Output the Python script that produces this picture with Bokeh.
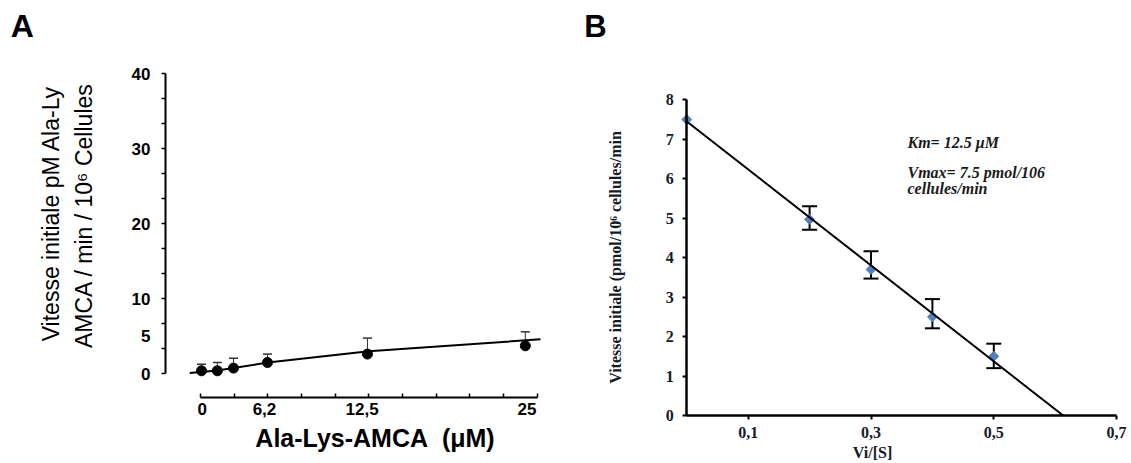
import math
from bokeh.plotting import figure
from bokeh.layouts import row
from bokeh.models import FixedTicker, Label, Whisker, TeeHead, ColumnDataSource
from bokeh.embed import file_html
from bokeh.resources import INLINE

# ---------------- Panel A data ----------------
# x positions along panel A's (non-proportional) concentration axis, in axis-tick units
A_x = [0.03, 0.5, 0.98, 1.99, 4.96, 9.65]
A_y = [0.4, 0.4, 0.76, 1.5, 2.63, 3.73]
A_err_top = [1.29, 1.51, 2.09, 2.63, 4.76, 5.6]
A_curve_x = [-0.32, 0.5, 2.0, 5.0, 10.1]
A_curve_y = [0.1, 0.45, 1.5, 3.0, 4.6]
A_x_tick_pos = [0.05, 1.9, 4.8, 9.7]
A_x_tick_labels = ["0", "6,2", "12,5", "25"]
A_x_minor = [0, 1, 2, 3, 4, 5, 6, 7, 8, 9, 10]
A_y_ticks = [0, 5, 10, 20, 30, 40]
A_y_minor = [0, 10/3, 20/3, 10, 40/3, 50/3, 20, 70/3, 80/3, 30, 100/3, 110/3, 40]

# ---------------- Panel B data ----------------
B_x = [0.0, 0.2, 0.3, 0.4, 0.5]
B_y = [7.5, 4.97, 3.7, 2.5, 1.5]
B_err_x = [0.2, 0.3, 0.4, 0.5]
B_err_low = [4.71, 3.47, 2.21, 1.2]
B_err_high = [5.3, 4.16, 2.95, 1.82]
B_fit_x = [0.0, 0.613]
B_fit_y = [7.45, 0.0]
B_x_ticks = [0.1, 0.3, 0.5, 0.7]
B_x_tick_labels = ["0,1", "0,3", "0,5", "0,7"]
B_y_ticks = [0, 1, 2, 3, 4, 5, 6, 7, 8]

SANS = "Liberation Sans"
SERIF = "Liberation Serif"
H = 463
WA = 575
WB = 1131 - WA

# ---- panel A screen layout (page pixels) ----
A_X0, A_SX = 200.0, 33.66      # page x of x=0, px per unit
A_Y0, A_SY = 373.3, 7.5        # page y of y=0, px per unit
def ax(px): return (px - A_X0) / A_SX
def ay(py): return (A_Y0 - py) / A_SY

# ---- panel B screen layout ----
B_X0, B_SX = 686.3, 614.0
B_Y0, B_SY = 415.0, 39.46
def bx(px): return (px - B_X0) / B_SX
def by(py): return (B_Y0 - py) / B_SY

# ================= Panel A =================
pA = figure(width=WA, height=H, x_range=(ax(0), ax(WA)), y_range=(ay(H), ay(0)),
            output_backend="svg", toolbar_location=None, title=None,
            min_border_left=0, min_border_right=0, min_border_top=0, min_border_bottom=0)
pA.outline_line_color = None
pA.grid.visible = False

ya = pA.yaxis[0]
ya.fixed_location = ax(165)
ya.bounds = (0, 40)
ya.ticker = FixedTicker(ticks=A_y_ticks, minor_ticks=A_y_minor)
ya.major_tick_in = 0
ya.major_tick_out = 0
ya.minor_tick_in = 0
ya.minor_tick_out = 4
ya.minor_tick_line_width = 1.5
ya.axis_line_width = 2
ya.major_label_standoff = 11
ya.major_label_text_font = SANS
ya.major_label_text_font_style = "bold"
ya.major_label_text_font_size = "17px"
ya.major_label_text_color = "black"

xa = pA.xaxis[0]
xa.fixed_location = ay(397.3)
xa.bounds = (0, 10)
xa.ticker = FixedTicker(ticks=A_x_tick_pos, minor_ticks=A_x_minor)
xa.major_label_overrides = dict(zip(A_x_tick_pos, A_x_tick_labels))
xa.major_tick_in = 0
xa.major_tick_out = 0
xa.minor_tick_in = 4
xa.minor_tick_out = 0
xa.minor_tick_line_width = 1.5
xa.axis_line_width = 2
xa.major_label_standoff = 5
xa.major_label_text_font = SANS
xa.major_label_text_font_style = "bold"
xa.major_label_text_font_size = "17px"
xa.major_label_text_color = "black"

pA.line(A_curve_x, A_curve_y, line_color="black", line_width=2)
srcA = ColumnDataSource(dict(x=A_x, lower=A_y, upper=A_err_top))
pA.add_layout(Whisker(source=srcA, base="x", lower="lower", upper="upper",
                      line_color="#333333", line_width=1,
                      upper_head=TeeHead(size=9, line_color="#333333", line_width=1.5),
                      lower_head=None))
pA.scatter(A_x, A_y, marker="circle", size=10, fill_color="black", line_color="black")

pA.add_layout(Label(x=ax(21.7), y=ay(25), text="A", text_font=SANS, text_font_style="bold",
                    text_font_size="32px", text_align="center", text_baseline="middle",
                    text_color="black"))
pA.add_layout(Label(x=ax(374.5), y=ay(437), text="Ala-Lys-AMCA\u00a0\u00a0(\u03bcM)",
                    text_font=SANS, text_font_style="bold", text_font_size="25px",
                    text_align="center", text_baseline="middle", text_color="black"))
pA.add_layout(Label(x=ax(50), y=ay(213), text="Vitesse initiale pM Ala-Ly", text_font=SANS,
                    text_font_size="23px", text_align="center", text_baseline="middle",
                    angle=math.pi / 2, text_color="black"))
pA.add_layout(Label(x=ax(83.5), y=ay(215), text="AMCA / min / 10\u2076 Cellules", text_font=SANS,
                    text_font_size="23px", text_align="center", text_baseline="middle",
                    angle=math.pi / 2, text_color="black"))

# ================= Panel B =================
pB = figure(width=WB, height=H, x_range=(bx(WA), bx(1131)), y_range=(by(H), by(0)),
            output_backend="svg", toolbar_location=None, title=None,
            min_border_left=0, min_border_right=0, min_border_top=0, min_border_bottom=0)
pB.outline_line_color = None
pB.grid.visible = False

TXT = "#151a2b"
yb = pB.yaxis[0]
yb.fixed_location = 0
yb.bounds = (0, 8)
yb.ticker = FixedTicker(ticks=B_y_ticks, minor_ticks=[])
yb.major_tick_in = 0
yb.major_tick_out = 4
yb.major_tick_line_width = 2
yb.minor_tick_in = 0
yb.minor_tick_out = 0
yb.axis_line_width = 2.5
yb.major_label_standoff = 9
yb.major_label_text_font = SERIF
yb.major_label_text_font_style = "bold"
yb.major_label_text_font_size = "16px"
yb.major_label_text_color = TXT

xb = pB.xaxis[0]
xb.fixed_location = 0
xb.bounds = (0, 0.7)
xb.ticker = FixedTicker(ticks=B_x_ticks, minor_ticks=[])
xb.major_label_overrides = dict(zip(B_x_ticks, B_x_tick_labels))
xb.major_tick_in = 0
xb.major_tick_out = 4
xb.major_tick_line_width = 2
xb.minor_tick_in = 0
xb.minor_tick_out = 0
xb.axis_line_width = 2.5
xb.major_label_standoff = 7
xb.major_label_text_font = SERIF
xb.major_label_text_font_style = "bold"
xb.major_label_text_font_size = "16px"
xb.major_label_text_color = TXT

pB.scatter(B_x, B_y, marker="square", angle=math.pi / 4, size=7,
           fill_color="#4f81bd", line_color="#4f81bd")
pB.line(B_fit_x, B_fit_y, line_color="black", line_width=2)
srcB = ColumnDataSource(dict(x=B_err_x, lower=B_err_low, upper=B_err_high))
pB.add_layout(Whisker(source=srcB, base="x", lower="lower", upper="upper",
                      line_color="black", line_width=2,
                      upper_head=TeeHead(size=15, line_color="black", line_width=2),
                      lower_head=TeeHead(size=15, line_color="black", line_width=2)))

pB.add_layout(Label(x=bx(595), y=by(26), text="B", text_font=SANS, text_font_style="bold",
                    text_font_size="31px", text_align="center", text_baseline="middle",
                    text_color="black"))
pB.add_layout(Label(x=bx(872), y=by(452), text="Vi/[S]", text_font=SERIF,
                    text_font_style="bold", text_font_size="16px", text_align="center",
                    text_baseline="middle", text_color=TXT))
pB.add_layout(Label(x=bx(615), y=by(257), text="Vitesse initiale (pmol/10\u2076 cellules/min",
                    text_font=SERIF, text_font_style="bold", text_font_size="16px",
                    text_align="center", text_baseline="middle", angle=math.pi / 2,
                    text_color=TXT))
for txt, py in [("Km= 12.5 \u03bcM", 141.7), ("Vmax= 7.5 pmol/106", 171.7), ("cellules/min", 188.3)]:
    pB.add_layout(Label(x=bx(907), y=by(py), text=txt, text_font=SERIF,
                        text_font_style="bold italic", text_font_size="16px",
                        text_align="left", text_baseline="middle", text_color="#1a1a1a"))

layout = row(pA, pB)
open("out.html", "w").write(file_html(layout, INLINE))
